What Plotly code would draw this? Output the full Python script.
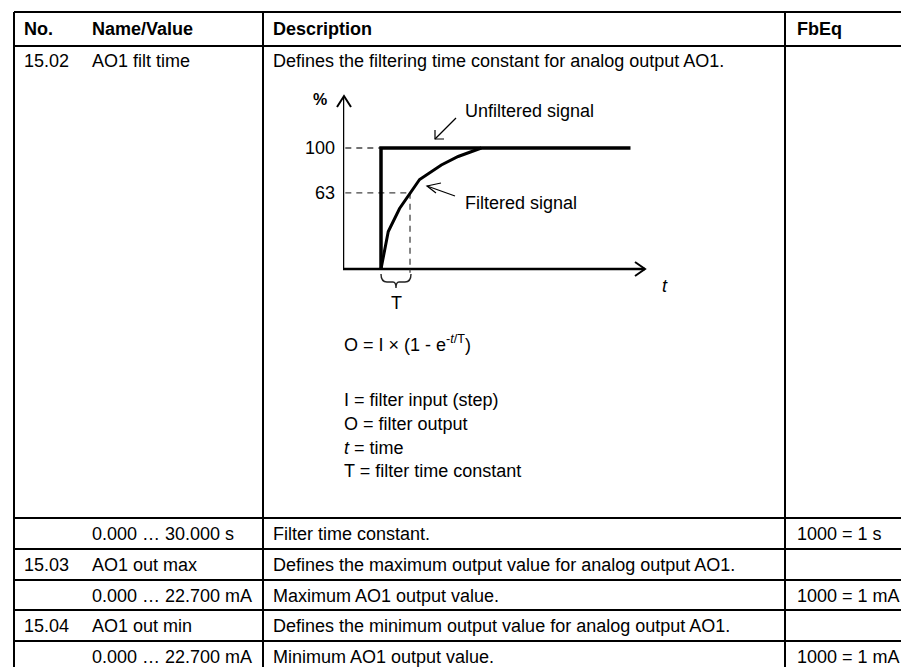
import plotly.graph_objects as go

# table content
col_no = ["15.02", "", "15.03", "", "15.04", ""]
col_name = ["AO1 filt time", "0.000 … 30.000 s", "AO1 out max", "0.000 … 22.700 mA",
            "AO1 out min", "0.000 … 22.700 mA"]
col_desc = ["Defines the filtering time constant for analog output AO1.",
            "Filter time constant.",
            "Defines the maximum output value for analog output AO1.",
            "Maximum AO1 output value.",
            "Defines the minimum output value for analog output AO1.",
            "Minimum AO1 output value."]
col_fbeq = ["", "1000 = 1 s", "", "1000 = 1 mA", "", "1000 = 1 mA"]
headers = ["No.", "Name/Value", "Description", "FbEq"]

# diagram data (time in units of T, value in %)
t_step = [0, 0, 8.6]
pct_step = [0, 100, 100]
t_filtered = [0, 0.25, 0.64, 1.0, 1.33, 2.08, 2.66, 3.46]
pct_filtered = [0, 31, 50, 63, 74, 86, 93, 100]
level_ticks = [63, 100]

W, H = 909, 667
FONT = "Liberation Sans, Arial, sans-serif"
FS = 18

# table geometry (pixels)
x_left, x_desc, x_fb, x_right = 6, 255, 777, 905
y_top, y_head = 4, 38
row_lines = [510, 541, 572, 602, 633]
row_h = 31

fig = go.Figure()

# --- diagram subplot (x2/y2) ---
t_min, t_max = -1.31, 9.10
p_min, p_max = -30, 143
dash = dict(color="#444", width=1.3, dash="6px,5px")

fig.add_trace(go.Scatter(x=[t_min, t_min, t_max], y=[p_max, 0, 0], mode="lines",
                         line=dict(color="black", width=2.5), xaxis="x2", yaxis="y2"))
for lv, t_end in zip(level_ticks, [1.0, 0]):
    fig.add_trace(go.Scatter(x=[t_min + 0.08, t_end], y=[lv, lv], mode="lines",
                             line=dash, xaxis="x2", yaxis="y2"))
fig.add_trace(go.Scatter(x=[1.0, 1.0], y=[63, -3], mode="lines",
                         line=dash, xaxis="x2", yaxis="y2"))
fig.add_trace(go.Scatter(x=t_step, y=pct_step, mode="lines",
                         line=dict(color="black", width=3.5), xaxis="x2", yaxis="y2"))
fig.add_trace(go.Scatter(x=t_filtered, y=pct_filtered, mode="lines",
                         line=dict(color="black", width=3), xaxis="x2", yaxis="y2"))

# --- table lines (pixel axes) ---
shapes = []
line = dict(color="black", width=2)
for x in [x_left, x_desc, x_fb, x_right]:
    shapes.append(dict(type="line", x0=x, x1=x, y0=y_top, y1=H + 2, line=line))
for y in [y_top, y_head] + row_lines:
    shapes.append(dict(type="line", x0=x_left, x1=x_right, y0=y, y1=y, line=line))

# arrowheads and brace of the diagram
thin = dict(color="black", width=1.2)
shapes += [
    dict(type="path", path="M 329 99 L 336 88 L 343 99", line=dict(color="black", width=2)),
    dict(type="path", path="M 627 254 L 637 261 L 627 268", line=dict(color="black", width=2)),
    dict(type="line", x0=448, y0=110, x1=427, y1=131, line=thin),
    dict(type="path", path="M 427 122 L 427 131 L 436 131", line=thin),
    dict(type="line", x0=447, y0=188, x1=419, y1=178, line=thin),
    dict(type="path", path="M 433 175 L 419 178 L 428 185", line=thin),
    dict(type="path", path="M 373 266 Q 373 274 379 274 L 385 274 Q 388 274 388 280 "
                           "Q 388 274 391 274 L 397 274 Q 403 274 403 266",
         line=dict(color="#222", width=1.4)),
]

ann = []


def txt(x, y, s, bold=False, size=FS, anchor="left"):
    if not s:
        return
    ann.append(dict(x=x, y=y, xref="x", yref="y", text=f"<b>{s}</b>" if bold else s,
                    showarrow=False, xanchor=anchor, yanchor="middle",
                    font=dict(family=FONT, size=size, color="black")))


for s, x in zip(headers, [14, 82, 263, 787]):
    txt(x, 21, s, bold=True)

row_y = [53] + [y + row_h / 2 for y in row_lines]
for i, y in enumerate(row_y):
    txt(14, y, col_no[i])
    txt(82, y, col_name[i])
    txt(263, y, col_desc[i])
    txt(787, y, col_fbeq[i])

# diagram labels
txt(312, 91, "%", bold=True, size=16, anchor="center")
txt(388, 295, "T", anchor="center")
txt(652, 278, "<i>t</i>")
txt(455, 103, "Unfiltered signal")
txt(455, 195, "Filtered signal")
txt(334, 335, "O = I × (1 - e<sup>-<i>t</i>/T</sup>)")
for y, s in zip([392, 416, 440, 463], ["I = filter input (step)", "O = filter output",
                                       "<i>t</i> = time", "T = filter time constant"]):
    txt(334, y, s)

fig.update_layout(
    width=W, height=H, margin=dict(l=0, r=0, t=0, b=0),
    paper_bgcolor="white", plot_bgcolor="rgba(0,0,0,0)", showlegend=False,
    shapes=shapes, annotations=ann,
    xaxis=dict(range=[0, W], visible=False, fixedrange=True),
    yaxis=dict(range=[H, 0], visible=False, fixedrange=True),
    xaxis2=dict(domain=[335 / W, 637 / W], range=[t_min, t_max], anchor="y2",
                showgrid=False, zeroline=False, showticklabels=False, showline=False),
    yaxis2=dict(domain=[1 - 297.3 / H, 1 - 88 / H], range=[p_min, p_max], anchor="x2",
                showgrid=False, zeroline=False, showline=False,
                tickvals=level_ticks, ticktext=[str(v) for v in level_ticks],
                ticks="", ticklabelstandoff=7,
                tickfont=dict(family=FONT, size=FS, color="black")),
)

fig.write_html("out.html")
